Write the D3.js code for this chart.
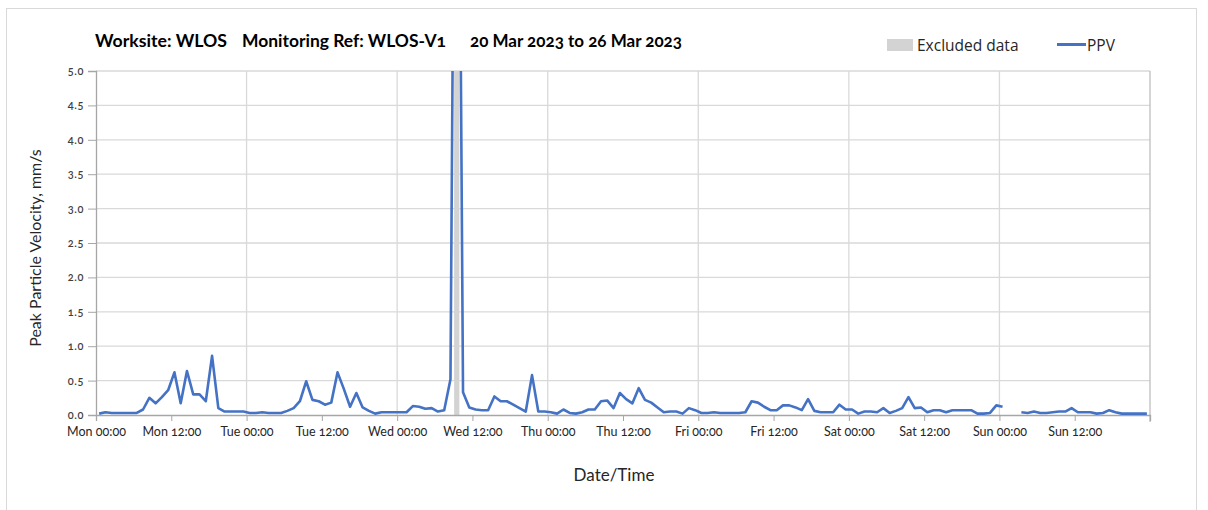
<!DOCTYPE html>
<html><head><meta charset="utf-8">
<script src="https://cdn.jsdelivr.net/npm/d3@7"></script>
<style>
body{margin:0;background:#fff;}
text{font-family:Lato,"Open Sans",sans-serif;font-variant-numeric:oldstyle-nums;}
</style></head>
<body><svg id="c" width="1208" height="510"></svg>
<script>
// ---- data ----
const titleParts = ["Worksite: WLOS", "Monitoring Ref: WLOS-V1", "20 Mar 2023 to 26 Mar 2023"];
const seriesStart = "2023-03-20T00:30:00"; // first hourly reading
const ppv = [
 0.02,0.04,0.03,0.03,0.03,0.03,0.03,0.08,0.25,0.17,0.26,0.36,0.62,0.17,0.64,0.30,0.30,0.20,0.86,0.10,0.05,0.05,0.05,0.05,
 0.03,0.03,0.04,0.03,0.03,0.03,0.06,0.10,0.20,0.49,0.22,0.20,0.15,0.18,0.62,0.38,0.12,0.32,0.11,0.06,0.02,0.04,0.04,0.04,
 0.04,0.04,0.13,0.12,0.09,0.10,0.05,0.07,0.52,14.0,0.33,0.11,0.08,0.07,0.07,0.27,0.20,0.20,0.15,0.10,0.05,0.58,0.05,0.05,
 0.04,0.02,0.08,0.03,0.02,0.04,0.08,0.08,0.20,0.21,0.10,0.32,0.23,0.17,0.39,0.22,0.18,0.11,0.04,0.05,0.05,0.02,0.10,0.07,
 0.03,0.03,0.04,0.03,0.03,0.03,0.03,0.04,0.20,0.18,0.12,0.07,0.07,0.14,0.14,0.11,0.07,0.23,0.06,0.04,0.04,0.04,0.15,0.08,
 0.08,0.02,0.05,0.05,0.04,0.10,0.03,0.06,0.10,0.26,0.10,0.11,0.04,0.07,0.07,0.04,0.07,0.07,0.07,0.07,0.02,0.02,0.03,0.14,
 0.12,null,null,0.04,0.03,0.05,0.03,0.03,0.04,0.05,0.05,0.10,0.04,0.04,0.04,0.02,0.03,0.07,0.04,0.02,0.02,0.02,0.02,0.02
];
const excluded = [["2023-03-22T09:05:00","2023-03-22T09:55:00"]];
const xDomain = ["2023-03-20T00:00:00","2023-03-27T00:00:00"];
const yTicks = [0,0.5,1,1.5,2,2.5,3,3.5,4,4.5,5];
const legendLabels = ["Excluded data","PPV"];
const yTitle = "Peak Particle Velocity, mm/s";
const xTitle = "Date/Time";

// ---- layout ----
const L=96,R=1150,T=71,B=415;
const svg=d3.select("#c");
const parse=s=>new Date(s);
const t0=parse(seriesStart);
const data=ppv.map((v,i)=>({d:new Date(t0.getTime()+i*3600e3),v}));
const x=d3.scaleTime().domain(xDomain.map(parse)).range([L,R]);
const y=d3.scaleLinear().domain([0,5]).range([B,T]);

svg.append("rect").attr("x",6.5).attr("y",8.5).attr("width",1190).attr("height",510).attr("fill","none").attr("stroke","#d9d9d9");

// grid
const g=svg.append("g");
g.selectAll(".hg").data(yTicks.filter(d=>d>0)).join("line")
 .attr("x1",L).attr("x2",R).attr("y1",d=>y(d)).attr("y2",d=>y(d)).attr("stroke","#d9d9d9").attr("stroke-width",1.3);
const dayTicks=d3.timeDay.range(parse(xDomain[0]),parse(xDomain[1])).slice(1);
g.selectAll(".vg").data(dayTicks).join("line")
 .attr("x1",d=>x(d)).attr("x2",d=>x(d)).attr("y1",T).attr("y2",B).attr("stroke","#d9d9d9").attr("stroke-width",1.3);
// right border
svg.append("line").attr("x1",R).attr("x2",R).attr("y1",T).attr("y2",B+7).attr("stroke","#bfbfbf").attr("stroke-width",1.3);

// excluded band
svg.selectAll(".ex").data(excluded).join("rect")
 .attr("x",d=>x(parse(d[0]))).attr("width",d=>x(parse(d[1]))-x(parse(d[0])))
 .attr("y",T).attr("height",B-T).attr("fill","#d3d3d3");

// axes
const ya=svg.append("g").attr("transform",`translate(${L},0)`)
 .call(d3.axisLeft(y).tickValues(yTicks).tickFormat(d3.format(".1f")).tickSize(8).tickPadding(4));
ya.select(".domain").attr("stroke","#a6a6a6").attr("stroke-width",1.3);
ya.selectAll(".tick line").attr("stroke","#a6a6a6");
ya.selectAll("text").attr("font-size",11).attr("fill","#404040").attr("font-weight",600).attr("letter-spacing",0.6);

const xTicks=d3.timeHour.every(12).range(parse(xDomain[0]),parse(xDomain[1]));
const xa=svg.append("g").attr("transform",`translate(0,${B})`)
 .call(d3.axisBottom(x).tickValues(xTicks).tickFormat(d3.timeFormat("%a %H:%M")).tickSize(6).tickPadding(6));
xa.select(".domain").attr("stroke","#a6a6a6").attr("stroke-width",1.3);
xa.selectAll(".tick line").attr("stroke","#a6a6a6");
xa.selectAll("text").attr("font-size",12.5).attr("fill","#262626");

// line
svg.append("clipPath").attr("id","pc").append("rect").attr("x",L).attr("y",T).attr("width",R-L).attr("height",B-T+3);
svg.append("path").datum(data).attr("clip-path","url(#pc)")
 .attr("fill","none").attr("stroke","#4472c4").attr("stroke-width",2.6).attr("stroke-linejoin","round")
 .attr("d",d3.line().defined(d=>d.v!=null).x(d=>x(d.d)).y(d=>y(d.v)));

// titles
const tx=[95,242,470], tw=[132,204,212];
svg.selectAll(".tt").data(titleParts).join("text").attr("x",(d,i)=>tx[i]).attr("y",47)
 .attr("font-size",16.5).attr("font-weight",700).attr("fill","#000")
 .attr("textLength",(d,i)=>tw[i]).attr("lengthAdjust","spacingAndGlyphs").text(d=>d);
svg.append("text").attr("transform",`translate(41,248) rotate(-90)`).attr("text-anchor","middle")
 .attr("font-size",16).attr("fill","#262626").text(yTitle);
svg.append("text").attr("x",614).attr("y",481).attr("text-anchor","middle")
 .attr("font-size",17).attr("fill","#262626").text(xTitle);

// legend
svg.append("rect").attr("x",887).attr("y",39).attr("width",26).attr("height",12).attr("fill","#d3d3d3");
svg.append("text").attr("x",917).attr("y",51).attr("font-size",15.5).attr("fill","#262626")
 .style("font-family","'Open Sans',sans-serif").text(legendLabels[0]);
svg.append("line").attr("x1",1057).attr("x2",1086).attr("y1",44.5).attr("y2",44.5).attr("stroke","#4472c4").attr("stroke-width",3);
svg.append("text").attr("x",1087).attr("y",51).attr("font-size",15.5).attr("fill","#262626")
 .style("font-family","'Open Sans',sans-serif").text(legendLabels[1]);
</script></body></html>
